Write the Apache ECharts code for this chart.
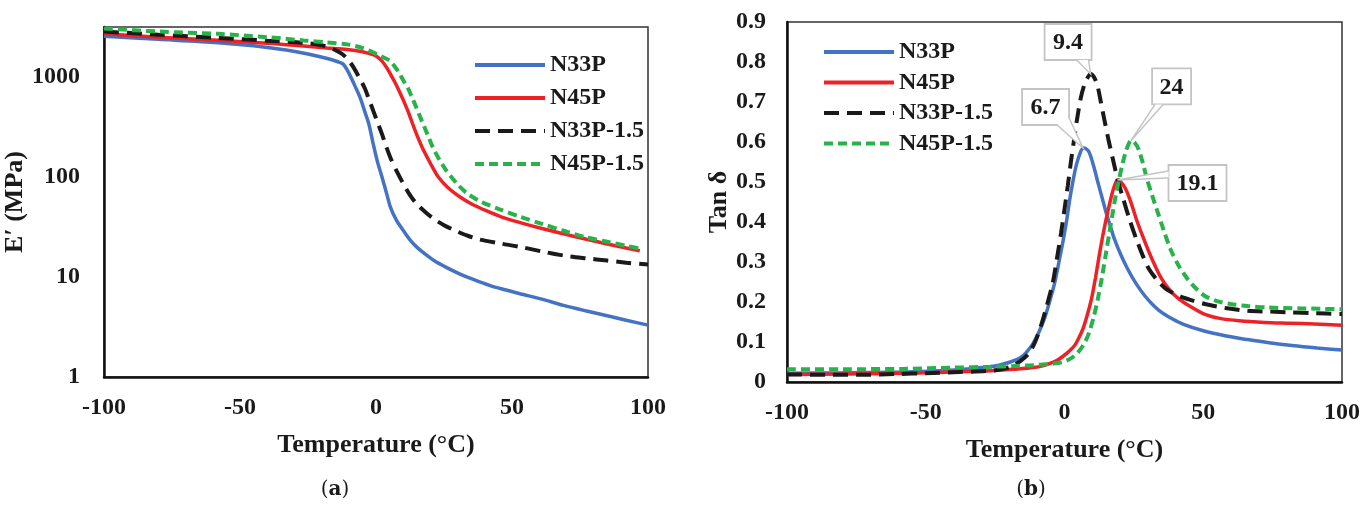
<!DOCTYPE html>
<html>
<head>
<meta charset="utf-8">
<script src="https://cdn.jsdelivr.net/npm/echarts@6/dist/echarts.min.js"></script>
<style>
html,body{margin:0;padding:0;background:#fff;}
#chart{width:1363px;height:516px;}
</style>
</head>
<body>
<div id="chart"></div>
<script>
// ---------------- DATA ----------------
var seriesNames = ['N33P', 'N45P', 'N33P-1.5', 'N45P-1.5'];
var xTicks = [-100, -50, 0, 50, 100];
var logTickLabels = [1, 10, 100, 1000];

// (a) Storage modulus E' (MPa) vs temperature
var n33pE = [[-100,2550],[-80,2380],[-58,2200],[-45,2050],[-33,1860],[-25,1700],[-18.6,1550],[-14,1420],[-12,1340],[-9.8,1070],[-7.8,820],[-5.8,620],[-4,440],[-2.6,336],[-1,213],[0.6,140],[2.2,100],[3.8,70],[5.3,50],[7.5,37],[10.1,29],[12.5,23.5],[14.9,20],[18,17],[21.3,14.6],[26,12.4],[30.9,10.7],[36,9.4],[42,8.2],[47,7.5],[53,6.8],[61,6.0],[69,5.2],[77,4.6],[85,4.1],[92,3.7],[100,3.3]];
var n45pE = [[-100,2700],[-80,2500],[-58,2330],[-40,2180],[-26.6,2040],[-18,1950],[-10.6,1880],[-5,1790],[-2.6,1720],[0,1620],[2.2,1440],[4,1230],[5.3,1070],[7,880],[8.5,725],[10,590],[11.7,458],[13.3,350],[14.9,268],[16.9,200],[18.9,156],[20.8,125],[22.9,100],[26.5,78],[30.9,63],[35,54],[40.5,46],[46,40],[53,35],[61,30.5],[69,27],[77,24],[85,21.4],[92,19.5],[97,18.3]];
var n33p15E = [[-100,2850],[-80,2650],[-58,2460],[-40,2310],[-26.6,2200],[-20,2080],[-17,1960],[-14.5,1830],[-12.2,1680],[-10,1460],[-8.2,1240],[-6.2,990],[-4.2,780],[-2.6,600],[-1,458],[0.6,350],[2.2,268],[3.8,200],[5.3,156],[7.7,113],[10.1,85],[12.5,66],[14.9,54],[18,45],[21.3,38],[25,33],[29.3,29],[33,26.3],[37.3,24],[45,21.8],[53,20],[61,18],[69,16.4],[77,15.4],[85,14.6],[92,13.9],[100,13.3]];
var n45p15E = [[-100,3050],[-80,2850],[-58,2700],[-40,2500],[-26.6,2320],[-18,2220],[-10.6,2120],[-5,1950],[0.6,1680],[3,1560],[5.3,1440],[7,1260],[8.5,1100],[10,930],[11.7,780],[13.3,620],[14.9,490],[16.9,360],[18.9,268],[20.8,200],[22.9,156],[25.3,122],[27.7,100],[30.8,80],[34,67],[39,56],[45,48],[53,40],[61,34],[69,29],[77,25],[85,22.5],[92,20.5],[98,19]];

// (b) Tan delta vs temperature
var n33pTan = [[-100,0.022],[-80,0.023],[-57.5,0.025],[-45,0.028],[-34,0.033],[-27,0.038],[-23.6,0.042],[-19.5,0.050],[-15.8,0.061],[-13.5,0.076],[-11.2,0.098],[-9.2,0.125],[-7.3,0.157],[-5.4,0.200],[-3.5,0.249],[-2,0.300],[-0.4,0.357],[0.8,0.405],[1.9,0.457],[3,0.500],[4.2,0.541],[5.4,0.568],[6.7,0.585],[7.8,0.583],[8.9,0.574],[10.5,0.540],[12,0.500],[13.5,0.462],[15,0.424],[16.5,0.390],[18,0.357],[20.3,0.318],[22.8,0.282],[25.8,0.246],[29,0.215],[32,0.192],[35,0.174],[38.8,0.158],[42.9,0.144],[50,0.128],[58.3,0.115],[66,0.106],[73.7,0.098],[82,0.091],[91,0.085],[100,0.080]];
var n45pTan = [[-100,0.019],[-80,0.020],[-57.5,0.022],[-40,0.025],[-26.6,0.028],[-18,0.032],[-11.2,0.036],[-7.5,0.041],[-5,0.047],[-2.5,0.055],[-0.4,0.065],[1.5,0.076],[3.5,0.090],[5,0.108],[6.6,0.132],[8.1,0.165],[9.7,0.207],[11.2,0.262],[12.7,0.324],[14.2,0.380],[15.8,0.432],[17.3,0.475],[18.3,0.496],[19.1,0.505],[20.3,0.500],[22,0.483],[24,0.448],[25.9,0.407],[28.2,0.364],[30.5,0.324],[32.8,0.288],[35.1,0.257],[38,0.229],[41.3,0.207],[45.5,0.188],[50.6,0.169],[56,0.159],[62.9,0.153],[72,0.149],[81.5,0.147],[90,0.145],[100,0.142]];
var n33p15Tan = [[-100,0.019],[-85,0.018],[-73,0.018],[-60,0.020],[-50,0.022],[-38,0.025],[-26.6,0.028],[-22,0.033],[-19,0.040],[-15.8,0.053],[-12.7,0.073],[-10.3,0.105],[-8.1,0.149],[-6.2,0.195],[-4.2,0.249],[-2.7,0.310],[-1.2,0.374],[0,0.432],[1.2,0.491],[2.3,0.550],[3.5,0.608],[4.6,0.660],[5.8,0.708],[7,0.740],[8.1,0.758],[9.4,0.770],[10.8,0.760],[12,0.737],[13.1,0.700],[14.3,0.658],[15.8,0.607],[17.4,0.558],[19.2,0.505],[21.2,0.457],[23.5,0.405],[25.9,0.357],[28.2,0.316],[30.5,0.282],[33.5,0.254],[36.7,0.232],[39.8,0.220],[42.9,0.211],[46.5,0.203],[50.6,0.195],[58,0.185],[66,0.178],[74,0.176],[81.5,0.174],[90,0.172],[100,0.170]];
var n45p15Tan = [[-100,0.032],[-80,0.032],[-57.5,0.033],[-40,0.036],[-26.6,0.038],[-18,0.040],[-11.2,0.042],[-6,0.045],[-1.9,0.048],[0.6,0.053],[2.7,0.061],[4.3,0.070],[5.8,0.082],[7.4,0.100],[8.9,0.124],[10.5,0.162],[12,0.207],[13.5,0.262],[15,0.324],[16.2,0.375],[17.4,0.424],[18.5,0.468],[19.7,0.508],[20.9,0.545],[22,0.574],[23.1,0.595],[24,0.604],[25.3,0.598],[26.6,0.583],[28.2,0.548],[29.7,0.508],[31.6,0.466],[33.6,0.424],[35.8,0.378],[38.2,0.332],[41.2,0.290],[44.4,0.257],[47.5,0.233],[50.6,0.215],[55,0.202],[59.8,0.195],[66,0.190],[73.7,0.186],[85,0.184],[100,0.182]];

// peak callout labels (peak temperatures)
var peakLabels = ['6.7', '19.1', '9.4', '24'];
var captionLabels = ['a', 'b'];

// ---------------- STYLE ----------------
var colors = ['#4472C4', '#EE2226', '#1A1A1A', '#27B24A'];
var lineTypes = ['solid', 'solid', [15, 8], [9, 5]];
var lineWidths = [3.5, 3.5, 4, 4];
var txt = '#1a1a1a';
var FONT = '"Liberation Serif","Times New Roman",serif';

var chart = echarts.init(document.getElementById('chart'), null, {renderer: 'canvas'});

var eData = [n33pE, n45pE, n33p15E, n45p15E];
var tData = [n33pTan, n45pTan, n33p15Tan, n45p15Tan];

var series = [];
for (var i = 0; i < 4; i++) {
  series.push({
    name: seriesNames[i], type: 'line', xAxisIndex: 0, yAxisIndex: 0,
    data: eData[i], smooth: 0.3, showSymbol: false, symbol: 'none',
    lineStyle: {color: colors[i], width: lineWidths[i], type: lineTypes[i], cap: 'butt'},
    itemStyle: {color: colors[i]}, z: 2 + i
  });
}
for (var j = 0; j < 4; j++) {
  series.push({
    name: seriesNames[j], type: 'line', xAxisIndex: 1, yAxisIndex: 1,
    data: tData[j], smooth: 0.3, showSymbol: false, symbol: 'none',
    lineStyle: {color: colors[j], width: lineWidths[j], type: lineTypes[j], cap: 'butt'},
    itemStyle: {color: colors[j]}, z: 2 + j
  });
}

function xAxisCfg(idx) {
  return {
    type: 'value', gridIndex: idx, min: -100, max: 100, interval: 50,
    name: 'Temperature (°C)', nameLocation: 'middle', nameGap: 55,
    nameTextStyle: {fontFamily: FONT, fontWeight: 'bold', fontSize: 26, color: txt},
    axisLine: {show: true, onZero: false, lineStyle: {color: '#111', width: 2.5}},
    axisTick: {show: false}, splitLine: {show: false},
    axisLabel: {margin: 19, fontFamily: FONT, fontWeight: 'bold', fontSize: 24, color: txt,
      formatter: function (v) { return xTicks.indexOf(v) >= 0 ? String(v) : ''; }}
  };
}

var legendCommon = {
  data: seriesNames, orient: 'vertical', itemWidth: 70, itemHeight: 24, padding: 0,
  itemStyle: {color: 'rgba(0,0,0,0)', borderColor: 'rgba(0,0,0,0)', borderWidth: 0, opacity: 0},
  lineStyle: {width: 4},
  textStyle: {fontFamily: FONT, fontWeight: 'bold', fontSize: 24, color: txt, lineHeight: 24},
  selectedMode: false
};

var option = {
  animation: false,
  backgroundColor: '#ffffff',
  grid: [
    {left: 104, top: 27, width: 544, height: 350, show: true, borderColor: '#333', borderWidth: 1.5, backgroundColor: 'transparent'},
    {left: 787, top: 22, width: 556, height: 360, show: true, borderColor: '#333', borderWidth: 1.5, backgroundColor: 'transparent'}
  ],
  legend: [
    Object.assign({}, legendCommon, {left: 473, top: 53, itemGap: 9}),
    Object.assign({}, legendCommon, {left: 822, top: 40, itemGap: 6.5})
  ],
  xAxis: [xAxisCfg(0), xAxisCfg(1)],
  yAxis: [
    {
      type: 'log', gridIndex: 0, logBase: 10, min: 1, max: 3162,
      name: 'E′ (MPa)', nameLocation: 'middle', nameGap: 71, nameRotate: 90,
      nameTextStyle: {fontFamily: FONT, fontWeight: 'bold', fontSize: 26, color: txt},
      axisLine: {show: true, onZero: false, lineStyle: {color: '#111', width: 2.5}},
      axisTick: {show: false}, splitLine: {show: false}, minorTick: {show: false},
      axisLabel: {margin: 24, showMaxLabel: false, fontFamily: FONT, fontWeight: 'bold', fontSize: 24, color: txt,
        formatter: function (v) {
          for (var k = 0; k < logTickLabels.length; k++) {
            if (Math.abs(v - logTickLabels[k]) / logTickLabels[k] < 1e-6) return String(logTickLabels[k]);
          }
          return '';
        }}
    },
    {
      type: 'value', gridIndex: 1, min: 0, max: 0.9, interval: 0.1,
      name: 'Tan δ', nameLocation: 'middle', nameGap: 52, nameRotate: 90,
      nameTextStyle: {fontFamily: FONT, fontWeight: 'bold', fontSize: 26, color: txt},
      axisLine: {show: true, onZero: false, lineStyle: {color: '#111', width: 2.5}},
      axisTick: {show: false}, splitLine: {show: false},
      axisLabel: {margin: 21, fontFamily: FONT, fontWeight: 'bold', fontSize: 24, color: txt,
        formatter: function (v) { return Math.abs(v) < 1e-9 ? '0' : (Math.round(v * 10) / 10).toFixed(1); }}
    }
  ],
  series: series
};
chart.setOption(option);

// ----- peak callouts (positions derived from data through the chart scales) -----
function peakOf(arr) {
  var best = arr[0];
  for (var k = 1; k < arr.length; k++) if (arr[k][1] > best[1]) best = arr[k];
  return best;
}
// layout of each callout relative to its peak point: box rect and wedge base points
var calloutLayout = [
  {box: [-61, -59, 47, 36], base: [[-26, -23], [-14, -30]]},   // 6.7  (N33P)
  {box: [51, -15, 58, 36], base: [[51, -9], [51, -2]]},         // 19.1 (N45P)
  {box: [-46, -50, 47, 36], base: [[-14, -14], [-2, -14]]},     // 9.4  (N33P-1.5)
  {box: [21, -72, 39, 36], base: [[24, -36], [32, -36]]}        // 24   (N45P-1.5)
];
var graphics = [];
for (var s = 0; s < 4; s++) {
  var pk = peakOf(tData[s]);
  var p = chart.convertToPixel({xAxisIndex: 1, yAxisIndex: 1}, pk);
  var L = calloutLayout[s];
  var bx = p[0] + L.box[0], by = p[1] + L.box[1];
  graphics.push({type: 'rect', shape: {x: bx, y: by, width: L.box[2], height: L.box[3]},
    style: {fill: '#fff', stroke: '#c4c4c4', lineWidth: 1.8}, z: 100});
  var a1 = [p[0] + L.base[0][0], p[1] + L.base[0][1]];
  var a2 = [p[0] + L.base[1][0], p[1] + L.base[1][1]];
  graphics.push({type: 'polygon', shape: {points: [a1, [p[0], p[1]], a2]},
    style: {fill: '#fff', stroke: null}, z: 101});
  graphics.push({type: 'polyline', shape: {points: [a1, [p[0], p[1]], a2]},
    style: {fill: null, stroke: '#c4c4c4', lineWidth: 1.5}, z: 102});
  graphics.push({type: 'text', x: bx + L.box[2] / 2, y: by + L.box[3] / 2 + 1,
    style: {text: peakLabels[s], font: 'bold 24px ' + FONT, fill: txt, align: 'center', verticalAlign: 'middle'}, z: 103});
}
// captions (a), (b)
var capX = [335, 1031];
for (var c = 0; c < 2; c++) {
  graphics.push({type: 'text', x: capX[c], y: 490,
    style: {text: '{p|(}{b|' + captionLabels[c] + '}{p|)}', align: 'center', verticalAlign: 'middle',
      rich: {p: {fontFamily: '"DejaVu Serif",serif', fontSize: 20, fill: txt},
             b: {fontFamily: '"DejaVu Serif",serif', fontSize: 20, fontWeight: 'bold', fill: txt}}}, z: 100});
}
chart.setOption({graphic: graphics});
</script>
</body>
</html>
